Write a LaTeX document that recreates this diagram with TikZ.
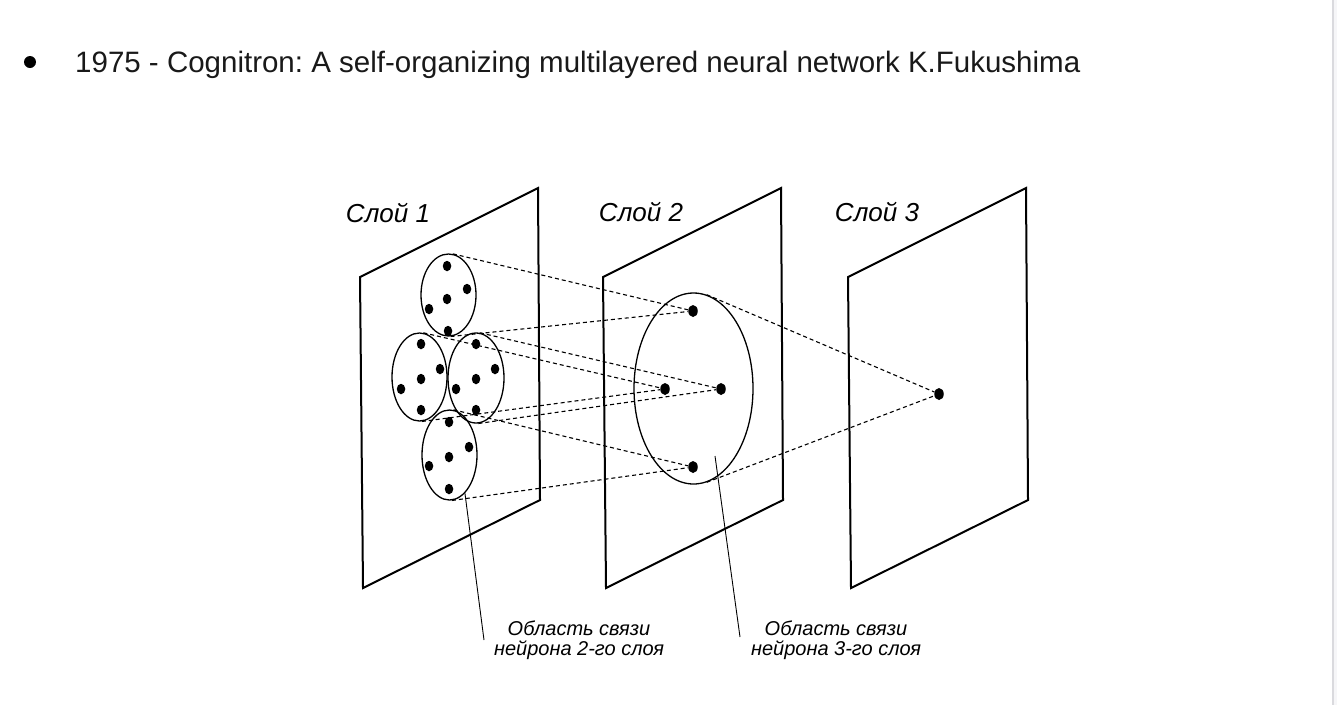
\documentclass[tikz,border=0pt]{standalone}
\usepackage{fontspec}
\setmainfont{Liberation Sans}
\usetikzlibrary{shapes.geometric}
\frenchspacing
\definecolor{pagerule}{RGB}{218,218,222}
\definecolor{pageside}{RGB}{246,246,248}
\newcommand{\layerplane}[2]{\draw[planeedge] ( #1 , #2 ) -- ++(178,-89) -- ++(2,312) -- ++(-177,88) -- cycle;}
\newcommand{\cellnode}[3]{\node[cell] (#1) at ( #2 , #3 ) {};}
\newcommand{\bigcellnode}[3]{\node[bigcell] (#1) at ( #2 , #3 ) {};}
\tikzset{
  planeedge/.style={line width=2pt, line join=miter},
  field/.style={draw, ellipse, line width=1.3pt, inner sep=0pt},
  cell/.style={ellipse, fill=black, draw=none, inner sep=0pt, minimum width=8.5pt, minimum height=10.5pt},
  bigcell/.style={cell, minimum width=9.5pt, minimum height=12pt},
  link/.style={line width=1.1pt, dash pattern=on 4pt off 3pt},
  leader/.style={line width=0.9pt},
  layertitle/.style={font=\fontsize{26}{30}\selectfont\itshape, anchor=base, inner sep=0pt},
  caption/.style={font=\fontsize{20}{24}\selectfont\itshape, anchor=base, inner sep=0pt}
}

\begin{document}
\begin{tikzpicture}[x=1pt, y=-1pt]
        \useasboundingbox (0,0) rectangle (1337,705);
        \fill[pageside] (1333,0) rectangle (1337,705);
        \draw[pagerule, line width=1.5pt] (1333,0) -- (1333,705);

        % heading
        \fill[black] (30,62) circle (6);
        \node[anchor=base west, inner sep=0pt, text=black!90, font=\fontsize{29.5}{34}\selectfont] (head) at (75,72)
            {1975 - Cognitron: A self-organizing multilayered neural network K.Fukushima};

        % layers
        \layerplane{360}{277}
        \layerplane{603}{277}
        \layerplane{848}{277}

        \node[layertitle] (t1) at (388,222) {Слой 1};
        \node[layertitle] (t2) at (641,221) {Слой 2};
        \node[layertitle] (t3) at (877,221) {Слой 3};

        % layer 1 fields
        \node[field, minimum width=55pt, minimum height=82pt] (f1) at (448.5,295) {};
        \node[field, minimum width=55pt, minimum height=88pt] (f2) at (419.5,377) {};
        \node[field, minimum width=56pt, minimum height=90pt] (f3) at (476,378) {};
        \node[field, minimum width=55pt, minimum height=90pt] (f4) at (449.5,455) {};

        \cellnode{a1}{447}{266}
        \cellnode{a2}{467}{289}
        \cellnode{a3}{447}{299}
        \cellnode{a4}{429}{309}
        \cellnode{a5}{448}{331}

        \cellnode{b1}{421}{344}
        \cellnode{b2}{440}{369}
        \cellnode{b3}{421}{379}
        \cellnode{b4}{401}{389}
        \cellnode{b5}{421}{410}

        \cellnode{c1}{476}{344}
        \cellnode{c2}{495}{369}
        \cellnode{c3}{476}{379}
        \cellnode{c4}{456}{389}
        \cellnode{c5}{476}{410}

        \cellnode{d1}{449}{422}
        \cellnode{d2}{469}{447}
        \cellnode{d3}{449}{457}
        \cellnode{d4}{429}{466}
        \cellnode{d5}{449}{489}

        % layer 2 field
        \node[field, minimum width=119pt, minimum height=191pt] (g) at (693.5,388.5) {};
        \bigcellnode{n1}{693}{311}
        \bigcellnode{n2}{665}{389}
        \bigcellnode{n3}{721}{389}
        \bigcellnode{n4}{693}{467}

        % layer 3
        \bigcellnode{m}{939}{394}

        % links
        \draw[link] (f1.84) -- (n1);
        \draw[link] (f1.-87) -- (n1);
        \draw[link] (f2.85) -- (n2);
        \draw[link] (f2.-87) -- (n2);
        \draw[link] (f3.85) -- (n3);
        \draw[link] (f3.-87) -- (n3);
        \draw[link] (f4.85) -- (n4);
        \draw[link] (f4.-87) -- (n4);
        \draw[link] (g.82) -- (m);
        \draw[link] (g.-82) -- (m);

        % captions
        \coordinate (l1) at (484,640);
        \coordinate (k2) at (715,456);
        \coordinate (l2) at (740,637);
        \draw[leader] (f4.-68) -- (l1);
        \draw[leader] (k2) -- (l2);

        \node[caption] (c1a) at (579,635) {Область связи};
        \node[caption] (c1b) at (579,655) {нейрона 2-го слоя};
        \node[caption] (c2a) at (836,635) {Область связи};
        \node[caption] (c2b) at (836,655) {нейрона 3-го слоя};
\end{tikzpicture}
\end{document}
